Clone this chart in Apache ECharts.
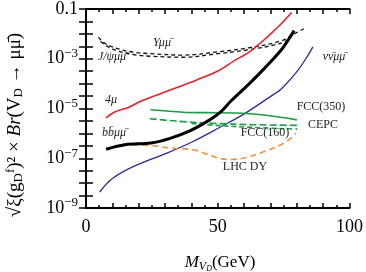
<!DOCTYPE html>
<html><head><meta charset="utf-8">
<script src="https://cdn.jsdelivr.net/npm/echarts@6/dist/echarts.min.js"></script>
<style>html,body{margin:0;padding:0;background:#fff}#c{width:366px;height:272px}</style>
</head><body><div id="c"></div>
<script>
// Data (x = M_VD in GeV, y = value)
const fourMu = [[7.6,4.2e-6],[10.7,7.1e-6],[16,1.1e-5],[21,2.0e-5],[31,5.0e-5],[42,1.4e-4],[50,3.2e-4],[56,8.0e-4],[62,1.9e-3],[68,6.3e-3],[74,2.5e-2],[78,7.2e-2]];
const bbMuMu = [[7.6,2.3e-7],[14.8,3.5e-7],[24.6,4.1e-7],[31.9,6.3e-7],[39.4,1.26e-6],[46.8,3.4e-6],[51,7.1e-6],[55,2.0e-5],[61.7,9.3e-5],[67.9,4.3e-4],[74,2.2e-3],[77.1,6.5e-3],[79,1.35e-2]];
const nuNuMuMu = [[5.2,4.4e-9],[9.9,1.5e-8],[18.5,4.9e-8],[30.7,1.6e-7],[40.6,4.7e-7],[51,1.8e-6],[60.2,6.2e-6],[71.2,3.7e-5],[74,5.9e-5],[80.2,3.2e-4],[83.9,1.2e-3],[86.1,3.0e-3]];
const upsilonMuMu = [[4.7,7.4e-3],[7.4,4.0e-3],[12.3,2.5e-3],[18.5,1.8e-3],[24.6,1.6e-3],[36.9,1.4e-3],[50,1.9e-3],[61.7,2.75e-3],[74,5.2e-3],[79,1.0e-2],[82.7,1.6e-2]];
const jpsiMuMu = [[5.5,5.0e-3],[8,3.2e-3],[12.3,2.0e-3],[18.5,1.45e-3],[24.6,1.26e-3],[36.9,1.15e-3],[50,1.6e-3],[61.7,2.3e-3],[74,4.2e-3],[78,7.1e-3]];
const fcc350 = [[24.5,8.9e-6],[37,7.1e-6],[45,6.8e-6],[57,6.6e-6],[69,5.2e-6],[80,3.5e-6]];
const cepc = [[24.2,3.9e-6],[30,3.4e-6],[38.4,2.9e-6],[49.4,2.5e-6],[63,2.24e-6],[80.2,2.1e-6]];
const fcc160 = [[40,2.5e-6],[49.4,2.1e-6],[63,1.74e-6],[80.2,1.48e-6]];
const lhcDY = [[13.8,3.7e-7],[24.6,3.2e-7],[32,2.6e-7],[40.6,2.2e-7],[45.5,1.5e-7],[50.5,1.0e-7],[54.4,8.9e-8],[60.5,1.05e-7],[67.9,1.9e-7],[74,3.5e-7],[77.7,6.3e-7],[79.6,1.0e-6]];
const xTickLabels = {0:'0',50:'50',100:'100'};
const yTickLabels = {'-1':'0.1','-3':'10{s|−3}','-5':'10{s|−5}','-7':'10{s|−7}','-9':'10{s|−9}'};

const SERIF = '"Liberation Serif","DejaVu Serif",serif';
const chart = echarts.init(document.getElementById('c'), null, {renderer:'canvas'});
const axLine = {show:true, lineStyle:{color:'#000', width:2}};
const tickStyle = {color:'#000', width:1.5};
function line(data, color, width, type, z){
  return {type:'line', data, smooth:0.35, symbol:'none', z:z||2,
    lineStyle:{color, width, type: type||'solid'}, xAxisIndex:0, yAxisIndex:0};
}
function expTickAxis(pos){
  return {type:'value', min:-9, max:-1, interval:0.5, position:pos,
    axisLine:axLine, splitLine:{show:false},
    axisTick:{show:true, inside:true, length:7, lineStyle:tickStyle},
    axisLabel:{show:false}};
}
function lbl(x, y, text, italic){
  return {type:'text', x, y, z:10, style:{text, align:'center', verticalAlign:'middle',
    font:(italic?'italic ':'')+'12px '+SERIF, fill:'#222'}};
}
chart.setOption({
  animation:false,
  grid:{left:86, right:9, top:5, bottom:64, containLabel:false},
  xAxis:[
    {type:'value', min:0, max:100, interval:10, position:'bottom',
     axisLine:axLine, splitLine:{show:false},
     axisTick:{show:true, inside:true, length:5, lineStyle:tickStyle},
     minorTick:{show:true, splitNumber:2, length:3, lineStyle:tickStyle},
     axisLabel:{show:true, margin:10, fontFamily:SERIF, fontSize:18, color:'#000',
       formatter:v=> xTickLabels[v] !== undefined ? xTickLabels[v] : ''}},
    {type:'value', min:0, max:100, interval:10, position:'top',
     axisLine:axLine, splitLine:{show:false},
     axisTick:{show:true, inside:true, length:5, lineStyle:tickStyle},
     minorTick:{show:true, splitNumber:2, length:3, lineStyle:tickStyle},
     axisLabel:{show:false}}
  ],
  yAxis:[
    {type:'log', logBase:10, min:1e-9, max:0.1, position:'left',
     axisLine:axLine, splitLine:{show:false},
     axisTick:{show:false}, minorTick:{show:false},
     axisLabel:{show:true, margin:8, fontFamily:SERIF, fontSize:18, color:'#000',
       formatter:v=>{const e=Math.round(Math.log10(v)); return yTickLabels[String(e)]||'';},
       rich:{s:{fontFamily:SERIF, fontSize:13, color:'#000', padding:[0,0,10,0]}}}},
    expTickAxis('right'),
    expTickAxis('left')
  ],
  series:[
    line(upsilonMuMu, '#111', 1.3, [4,3]),
    line(jpsiMuMu, '#111', 1.3, [4,3]),
    line(fourMu, '#e8202a', 1.6),
    line(nuNuMuMu, '#2b2b9b', 1.3),
    line(fcc350, '#1f9a45', 1.6),
    line(cepc, '#1f9a45', 1.6, [7,3]),
    line(fcc160, '#1f9a45', 1.6, [5,3]),
    line(lhcDY, '#f39040', 1.6, [6,4]),
    line(bbMuMu, '#000', 3, 'solid', 3)
  ],
  graphic:[
    lbl(162, 43, 'Υμμ̄', true),
    lbl(112, 57, 'J/ψμμ̄', true),
    lbl(111, 100, '4μ', true),
    lbl(114, 133, 'bb̄μμ̄', true),
    lbl(334, 57, 'νν̄μμ̄', true),
    lbl(321, 107, 'FCC(350)', false),
    lbl(323, 125, 'CEPC', false),
    lbl(265, 133, 'FCC(160)', false),
    lbl(245, 167, 'LHC DY', false),
    {type:'text', x:15, y:125, rotation:Math.PI/2, style:{
      text:'√ξ(g{sub|D}{sup|f})² × {i|Br}(V{sub|D} → μμ̄)', align:'center', verticalAlign:'middle',
      font:'19px '+SERIF, fill:'#000',
      rich:{sub:{fontSize:13, fontFamily:SERIF, padding:[7,0,0,0]}, sup:{fontSize:13, fontFamily:SERIF, padding:[0,0,9,0]}, i:{fontSize:19, fontFamily:SERIF, fontStyle:'italic'}}}},
    {type:'text', x:220, y:263, style:{
      text:'{i|M}{sub|V}{sub2|D}(GeV)', align:'center', verticalAlign:'middle',
      font:'17px '+SERIF, fill:'#000',
      rich:{i:{fontSize:17, fontFamily:SERIF, fontStyle:'italic'}, sub:{fontSize:12, fontFamily:SERIF, fontStyle:'italic', padding:[7,0,0,0]}, sub2:{fontSize:8, fontFamily:SERIF, fontStyle:'italic', padding:[11,0,0,0]}}}}
  ]
});
</script></body></html>
